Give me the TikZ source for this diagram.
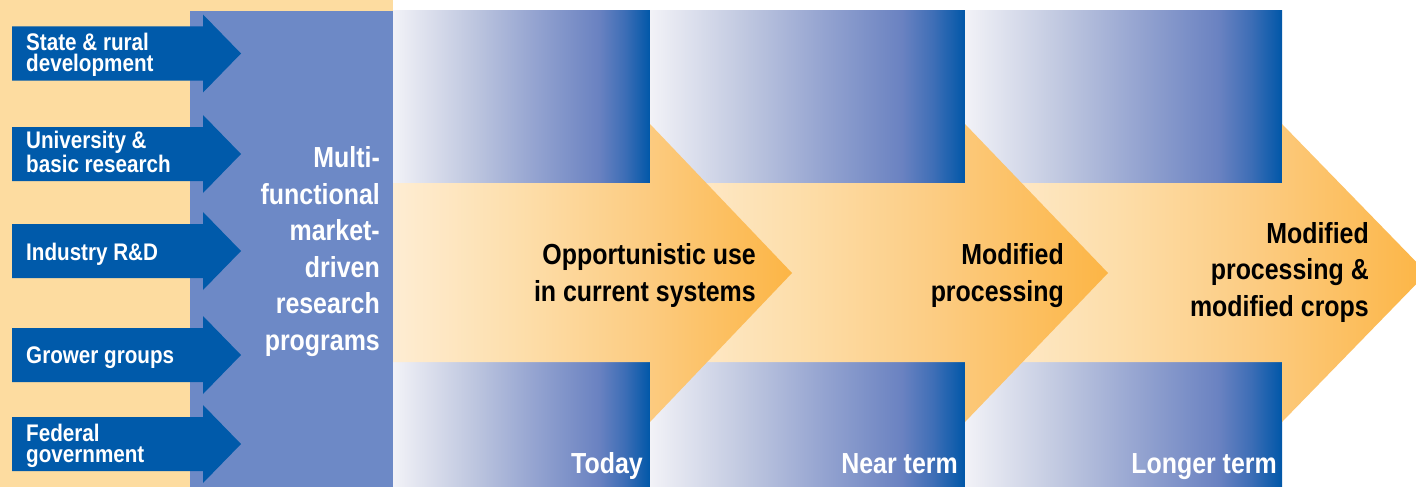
\documentclass[tikz,border=0pt]{standalone}
\usepackage{fontspec}
\setmainfont{Liberation Sans}[FakeStretch=0.86]
\definecolor{lorange}{HTML}{FDDCA0}
\definecolor{purp}{HTML}{6D89C6}
\definecolor{barrow}{HTML}{005AAA}
\definecolor{p0}{HTML}{F2F2F7}
\definecolor{p1}{HTML}{C0C8E0}
\definecolor{p2}{HTML}{96A5D1}
\definecolor{p3}{HTML}{6A82C1}
\definecolor{p4}{HTML}{3E6EB6}
\definecolor{p5}{HTML}{0057A8}
\definecolor{o0}{HTML}{FEEDD3}
\definecolor{o1}{HTML}{FDDDA8}
\definecolor{o2}{HTML}{FCCB80}
\definecolor{o3}{HTML}{FCB545}
\pgfdeclarehorizontalshading{panelsh}{100bp}{color(0bp)=(p0); color(25bp)=(p0); color(40bp)=(p1); color(52bp)=(p2); color(65bp)=(p3); color(70bp)=(p4); color(75bp)=(p5); color(100bp)=(p5)}
\pgfdeclarehorizontalshading{orangesh}{100bp}{color(0bp)=(o0); color(25bp)=(o0); color(42bp)=(o1); color(57bp)=(o2); color(75bp)=(o3); color(100bp)=(o3)}
\tikzset{
  panel/.style={shading=panelsh},
  bigarrow/.style={shading=orangesh},
  srcarrow/.style={fill=barrow},
  srctext/.style={font=\bfseries\fontsize{24}{20.5}\selectfont, text=white, inner sep=0pt, anchor=base west, align=left},
  bigtext/.style={font=\bfseries\fontsize{29}{36.5}\selectfont, inner sep=0pt, anchor=base east, align=right},
}
\begin{document}
\begin{tikzpicture}[x=1pt,y=-1pt]
\useasboundingbox (0,0) rectangle (1416,487);
\fill[white] (0,0) rectangle (1416,487);
\fill[lorange] (0,0) rectangle (393,487);
\fill[purp] (190,11) rectangle (393,487);
% source arrows
\foreach \c in {53.5,154,251,355,444}{
  \fill[srcarrow] (12,\c-27) -- (203,\c-27) -- (203,\c-39) -- (241,\c) -- (203,\c+39) -- (203,\c+27) -- (12,\c+27) -- cycle;
}
% base anchor of a multi-line node = baseline of its last line
\node[srctext] (s1) at (26,71) {State \& rural\\development};
\node[srctext] (s2) at (26,172) {University \&\\basic research};
\node[srctext] (s3) at (26,260) {Industry R\&D};
\node[srctext] (s4) at (26,363) {Grower groups};
\node[srctext] (s5) at (26,462) {Federal\\government};
\node[bigtext, text=white] (mf) at (380,350) {Multi-\\functional\\market-\\driven\\research\\programs};
% panels
\foreach \a/\b in {393/650,650/965,965/1282}{
  \shade[panel] (\a,11) rectangle (\b,183);
  \shade[panel] (\a,362) rectangle (\b,487);
}
% orange arrows
\shade[bigarrow] (965,183) -- (1282,183) -- (1282,124) -- (1427,273) -- (1282,422) -- (1282,362) -- (965,362) -- cycle;
\shade[bigarrow] (650,183) -- (965,183) -- (965,124) -- (1108,273) -- (965,422) -- (965,362) -- (650,362) -- cycle;
\shade[bigarrow] (393,183) -- (650,183) -- (650,124) -- (792,273) -- (650,422) -- (650,362) -- (393,362) -- cycle;
\node[bigtext] (t1) at (756,301) {Opportunistic use\\in current systems};
\node[bigtext] (t2) at (1064,301) {Modified\\processing};
\node[bigtext] (t3) at (1369,316) {Modified\\processing \&\\modified crops};
\node[bigtext, text=white] (d1) at (643,473) {Today};
\node[bigtext, text=white] (d2) at (958,473) {Near term};
\node[bigtext, text=white] (d3) at (1277,473) {Longer term};
\end{tikzpicture}
\end{document}
